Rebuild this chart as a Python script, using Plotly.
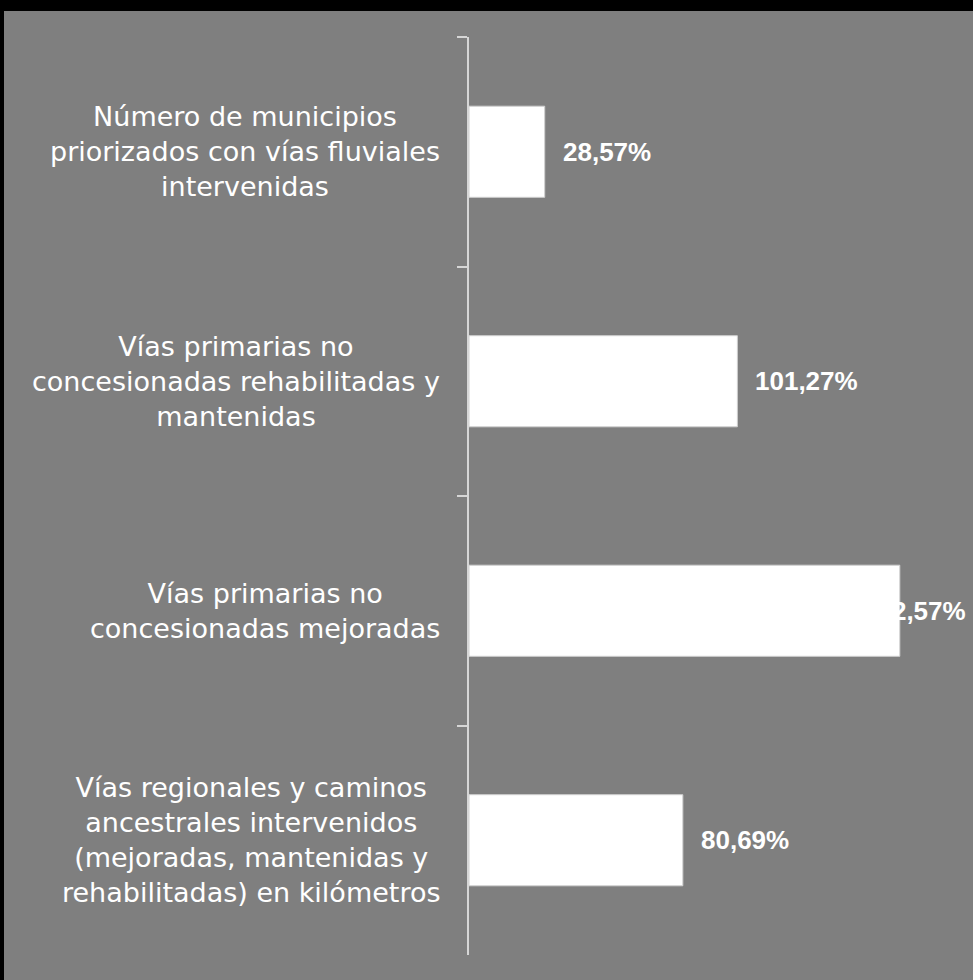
import plotly.graph_objects as go

categories = [
    "Número de municipios<br>priorizados con vías fluviales<br>intervenidas",
    "Vías primarias no<br>concesionadas rehabilitadas y<br>mantenidas",
    "Vías primarias no<br>concesionadas mejoradas",
    "Vías regionales y caminos<br>ancestrales intervenidos<br>(mejoradas, mantenidas y<br>rehabilitadas) en kilómetros",
]
values = [28.57, 101.27, 162.57, 80.69]
value_labels = ["28,57%", "101,27%", "162,57%", "80,69%"]

W, H = 973, 980
L, R, T, B = 469, 13, 37, 25
plot_w = W - L - R
plot_h = H - T - B
px_per_unit = 2.65
xmax = plot_w / px_per_unit

GREY = "#7f7f7f"
AXIS = "#d6d6d6"

fig = go.Figure()
fig.add_trace(go.Bar(
    y=categories, x=values, orientation="h",
    marker=dict(color="#ffffff", line=dict(color="#d0d0d0", width=1)),
    hoverinfo="skip", showlegend=False,
))

annotations = []
# category labels (centered block, right edge near axis)
for c in categories:
    annotations.append(dict(
        x=0, y=c, xref="x", yref="y", text=c, showarrow=False,
        xanchor="right", yanchor="middle", align="center", xshift=-27,
        font=dict(family="DejaVu Sans", size=27, color="#ffffff"),
    ))

label_font = dict(family="Liberation Sans, Arial", size=26, color="#ffffff", weight="bold")
for c, v, t in zip(categories, values, value_labels):
    est_w = 26 * 0.565 * len(t)
    if v * px_per_unit + 16 + est_w > plot_w + R - 6:
        annotations.append(dict(
            x=1, y=c, xref="paper", yref="y", text=t, showarrow=False,
            xanchor="right", yanchor="middle", xshift=R - 5, font=label_font,
        ))
    else:
        annotations.append(dict(
            x=v, y=c, xref="x", yref="y", text=t, showarrow=False,
            xanchor="left", yanchor="middle", xshift=16, font=label_font,
        ))

# grey panel inside black frame
x0 = (4 - L) / plot_w
x1 = (W - L) / plot_w + 0.01
y_top = (H - B - 11) / plot_h
y_bot = -(B + 5) / plot_h
shapes = [dict(type="rect", xref="paper", yref="paper", x0=x0, x1=x1, y0=y_bot, y1=y_top,
               fillcolor=GREY, line=dict(width=0), layer="below")]

fig.update_layout(
    width=W, height=H,
    margin=dict(l=L, r=R, t=T, b=B),
    paper_bgcolor="#000000",
    plot_bgcolor=GREY,
    bargap=0.603,
    annotations=annotations,
    shapes=shapes,
    xaxis=dict(range=[0, xmax], showgrid=False, zeroline=False, showline=False,
               showticklabels=False, ticks="", fixedrange=True),
    yaxis=dict(type="category", categoryorder="array", categoryarray=categories,
               autorange="reversed", showgrid=False, zeroline=False,
               showline=True, linecolor=AXIS, linewidth=2,
               ticks="outside", tickson="boundaries", ticklen=10, tickwidth=2,
               tickcolor=AXIS, showticklabels=False),
)

fig.write_html(
    "out.html",
    config={"displayModeBar": False, "staticPlot": True},
    post_script="document.body.style.margin='0';document.body.style.background='#000';"
                "document.body.style.overflow='hidden';",
)
